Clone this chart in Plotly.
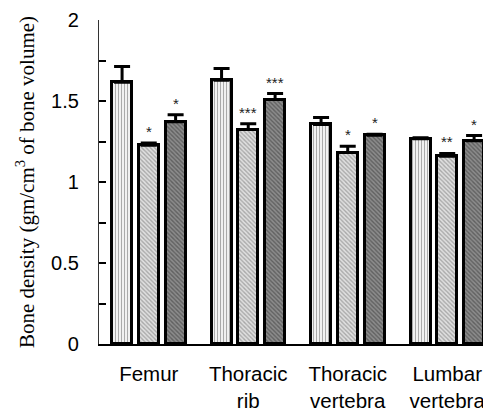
import plotly.graph_objects as go

categories = ["Femur", "Thoracic<br>rib", "Thoracic<br>vertebra", "Lumbar<br>vertebra"]

s1 = [1.616, 1.628, 1.355, 1.267]
e1 = [0.097, 0.072, 0.043, 0.006]
s2 = [1.227, 1.324, 1.182, 1.159]
e2 = [0.013, 0.036, 0.039, 0.017]
s3 = [1.372, 1.509, 1.289, 1.254]
e3 = [0.043, 0.037, 0.006, 0.033]

stars2 = ["*", "***", "*", "**"]
stars3 = ["*", "***", "*", "*"]

y_ticks = [0, 0.5, 1, 1.5, 2]
y_ticktext = ["0", "0.5", "1", "1.5", "2"]

SANS = "Arial, Liberation Sans, sans-serif"
SERIF = "Times New Roman, Liberation Serif, serif"

styles = [
    dict(offset=-0.368, pattern=dict(shape="|", fgcolor="#555555", bgcolor="white", size=3, solidity=0.45)),
    dict(offset=-0.1, pattern=dict(shape="\\", fgcolor="#707070", bgcolor="#e0e0e0", size=3, solidity=0.45)),
    dict(offset=0.17, pattern=dict(shape="\\", fgcolor="#333333", bgcolor="#8c8c8c", size=3, solidity=0.45)),
]

fig = go.Figure()
for vals, errs, st in zip([s1, s2, s3], [e1, e2, e3], styles):
    fig.add_trace(go.Bar(
        x=categories, y=vals, width=0.2, offset=st["offset"],
        marker=dict(color="white", pattern=st["pattern"], line=dict(color="black", width=3)),
        error_y=dict(type="data", array=errs, arrayminus=[0] * len(errs), symmetric=False,
                     color="black", thickness=3, width=8),
        showlegend=False,
    ))

annotations = []
for vals, errs, stars, st in [(s2, e2, stars2, styles[1]), (s3, e3, stars3, styles[2])]:
    for i, (v, e, s) in enumerate(zip(vals, errs, stars)):
        annotations.append(dict(
            x=i + st["offset"] + 0.1, xref="x", y=v + e, yref="y",
            text=s, showarrow=False, yanchor="bottom", yshift=1,
            font=dict(family=SANS, size=15, color="#222222"),
        ))

fig.update_layout(
    width=483, height=404,
    margin=dict(l=91, r=0, t=12, b=67.5, autoexpand=False),
    plot_bgcolor="white", paper_bgcolor="white",
    bargap=0, barmode="overlay",
    annotations=annotations,
    xaxis=dict(
        type="category", range=[-0.5, 3.44],
        showline=True, linecolor="black", linewidth=1.5,
        ticks="", showgrid=False, ticklabelstandoff=11,
        tickfont=dict(family=SANS, size=20.5, color="black"),
    ),
    yaxis=dict(
        range=[0, 2], tickvals=y_ticks, ticktext=y_ticktext,
        showline=True, linecolor="#333333", linewidth=1.2,
        ticks="inside", ticklen=7, tickcolor="black", tickwidth=1.5,
        minor=dict(dtick=0.25, ticks="inside", ticklen=7, tickcolor="black", tickwidth=1.5, showgrid=False),
        showgrid=False, zeroline=False, ticklabelstandoff=15,
        tickfont=dict(family=SANS, size=20, color="black"),
        title=dict(text="Bone density (gm/cm<sup>3</sup> of bone volume)",
                   font=dict(family=SERIF, size=21, color="black"), standoff=10),
    ),
)

fig.write_html("out.html")
